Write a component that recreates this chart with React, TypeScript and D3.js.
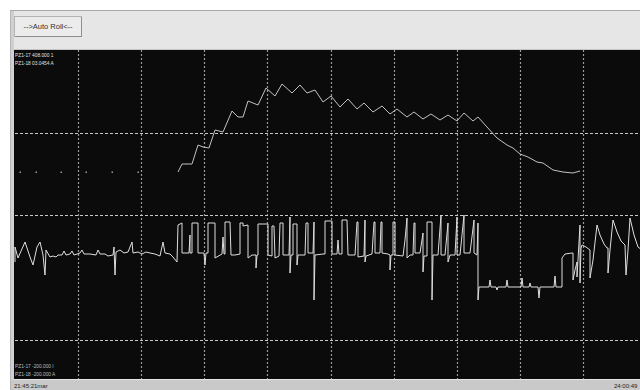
import React from "react";
import * as d3 from "d3";

// Trace readings: x in samples from the left edge, y in counts from the bottom edge
const topDotsX = [5, 21, 46, 71, 97, 123];
const topDotsY = [207, 207, 207, 207, 207, 207];

const topX = [163, 167, 177, 183, 188, 194, 200, 208, 217, 223, 228, 233, 243, 251, 260, 267, 277, 285, 292, 300, 308, 316, 325, 333, 342, 349, 358, 367, 375, 382, 392, 399, 408, 416, 425, 433, 442, 449, 458, 463, 472, 482, 492, 498, 505, 513, 522, 528, 538, 548, 558, 565];
const topY = [207, 215, 215, 234, 232, 231, 249, 247, 268, 262, 262, 278, 274, 291, 283, 295, 286, 294, 286, 289, 277, 283, 272, 280, 270, 276, 267, 273, 265, 270, 262, 267, 260, 265, 259, 264, 258, 266, 258, 262, 252, 241, 234, 231, 225, 222, 217, 216, 209, 207, 206, 208];

const bottomX = [
  0, 0, 3, 10, 15, 18, 22, 25, 28, 30, 31, 35, 38, 41, 43, 47, 49, 51, 55, 57, 59, 65, 67, 69, 75, 81, 83, 85, 90, 93, 98, 99, 100, 101, 105, 109, 113, 117, 118, 123, 127, 131, 135, 140, 145, 148, 150, 155, 158, 162,
  163, 167, 167, 174, 175, 175, 177, 177, 183, 183, 189, 190, 191, 193, 193, 200, 200, 207, 208, 209, 210, 210, 215, 216, 220, 225, 225, 228, 228, 233, 233, 237, 241, 241, 242, 243, 243, 253, 253, 257, 257, 259, 260, 264, 265, 268, 268, 274, 275, 275, 276, 278, 278, 282, 282, 283, 290, 291, 293, 293, 298, 299, 299, 300, 308, 310, 310, 317, 317, 322, 323, 324, 327, 327, 332, 333, 340, 342, 343, 343, 349, 350, 350, 351, 357, 359, 360, 360, 365, 366, 367, 367, 373, 375, 375, 376, 378, 378, 380, 380, 388, 390, 392, 392, 395, 398, 399, 400, 400, 405, 408, 408, 409, 412, 412, 417, 417, 418, 423, 426, 426, 430, 433, 433, 435, 440, 442, 442, 445, 449, 449, 455, 459, 459, 462, 463, 463, 464,
  474, 475, 476, 481, 482, 483, 491, 492, 493, 506, 507, 508, 514, 515, 516, 523, 524, 525, 539, 540, 541, 547,
  547, 550, 557, 558, 558, 560, 562, 562, 563, 565, 565, 566, 567, 571, 575, 575, 578, 582, 585, 589, 592, 593, 593, 595, 598, 602, 606, 610, 611, 613, 615, 619, 623, 627,
];
const bottomY = [
  117, 132, 121, 137, 122, 114, 132, 137, 124, 104, 129, 122, 123, 122, 124, 124, 128, 124, 125, 128, 124, 126, 129, 125, 125, 124, 129, 125, 125, 123, 124, 132, 104, 127, 129, 126, 127, 137, 126, 127, 125, 127, 126, 125, 123, 137, 126, 125, 122, 117,
  154, 156, 126, 126, 144, 126, 126, 156, 156, 126, 126, 114, 126, 126, 156, 156, 121, 125, 142, 125, 125, 157, 157, 124, 124, 125, 156, 156, 153, 154, 121, 124, 124, 111, 124, 124, 155, 155, 124, 123, 153, 153, 121, 123, 156, 156, 124, 124, 162, 106, 124, 124, 155, 155, 114, 124, 124, 156, 156, 126, 126, 157, 79, 124, 125, 125, 158, 158, 125, 125, 139, 125, 125, 159, 159, 124, 124, 157, 157, 122, 123, 159, 117, 123, 125, 157, 157, 126, 126, 157, 157, 126, 125, 124, 109, 124, 124, 157, 157, 124, 123, 139, 161, 121, 124, 124, 156, 156, 126, 126, 146, 107, 123, 123, 157, 157, 79, 124, 124, 164, 124, 124, 156, 117, 124, 124, 162, 124, 124, 164, 126, 126, 159, 126, 124, 156, 79, 92,
  92, 99, 92, 92, 89, 92, 92, 99, 92, 92, 101, 92, 92, 96, 92, 92, 81, 92, 92, 103, 92, 92,
  121, 125, 126, 126, 99, 109, 117, 102, 119, 154, 96, 131, 134, 132, 129, 101, 119, 154, 144, 135, 131, 131, 106, 129, 159, 147, 138, 134, 104, 129, 161, 144, 132, 129,
];

// Dashed horizontal reference levels (counts)
const levelLines = [246, 164, 39];
const divisions = 10;

const topLabels = ["PZ1-17 408.000 1", "PZ1-18 03.0454 A"];
const bottomLabels = ["PZ1-17 -200.000 I", "PZ1-18 -200.000 A"];
const startTime = "21:45:21mar";
const endTime = "24:00:49";
const buttonText = "-->Auto Roll<--";

const W = 640;
const H = 390;
const plot = { left: 15, right: 646, top: 50, bottom: 379 };

export default function App() {
  const x = d3.scaleLinear().domain([0, 631]).range([plot.left, plot.right]);
  const y = d3.scaleLinear().domain([0, 329]).range([plot.bottom, plot.top]);

  const line = d3
    .line<[number, number]>()
    .x((d) => x(d[0]))
    .y((d) => y(d[1]));

  const topPts = topX.map((v, i) => [v, topY[i]] as [number, number]);
  const bottomPts = bottomX.map((v, i) => [v, bottomY[i]] as [number, number]);
  const gridXs = d3.range(1, divisions).map((k) => (631 * k) / divisions);

  const font = "'Liberation Sans', Arial, sans-serif";

  return (
    <svg
      width={W}
      height={H}
      style={{ position: "fixed", left: 0, top: 0, display: "block" }}
    >
      <rect x={0} y={0} width={W} height={H} fill="#ffffff" />
      {/* window panel */}
      <rect x={10} y={10} width={W - 10} height={H - 10} fill="#e6e6e6" />
      <line x1={10} y1={10.5} x2={W} y2={10.5} stroke="#a9a9a9" />
      <line x1={10.5} y1={10} x2={10.5} y2={H} stroke="#b5b5b5" />
      <rect x={11} y={11} width={3} height={H - 11} fill="#d0d0d0" />

      {/* Auto Roll button */}
      <rect x={14.5} y={16.5} width={67} height={20} fill="#ececec" stroke="#b4b4b4" />
      <line x1={15} y1={36.5} x2={82} y2={36.5} stroke="#8e8e8e" />
      <line x1={81.5} y1={17} x2={81.5} y2={37} stroke="#8e8e8e" />
      <text
        x={48}
        y={29}
        textAnchor="middle"
        fontFamily={font}
        fontSize={7.5}
        fill="#333"
      >
        {buttonText}
      </text>

      {/* plot area */}
      <line x1={14} y1={49.5} x2={W} y2={49.5} stroke="#c4c4c4" />
      <rect
        x={14}
        y={plot.top}
        width={W - 14}
        height={plot.bottom - plot.top}
        fill="#0b0b0b"
      />

      {/* grid */}
      {gridXs.map((g, i) => (
        <line
          key={"v" + i}
          x1={Math.round(x(g)) + 0.5}
          x2={Math.round(x(g)) + 0.5}
          y1={plot.top}
          y2={plot.bottom}
          stroke="#9a9a9a"
          strokeWidth={1.2}
          strokeDasharray="2,2"
        />
      ))}
      {levelLines.map((v, i) => (
        <line
          key={"h" + i}
          x1={plot.left}
          x2={W}
          y1={Math.round(y(v)) + 0.5}
          y2={Math.round(y(v)) + 0.5}
          stroke="#c8c8c8"
          strokeWidth={1}
          strokeDasharray="3,2"
        />
      ))}

      {/* traces */}
      {topDotsX.map((v, i) => (
        <rect
          key={"d" + i}
          x={x(v) - 0.5}
          y={y(topDotsY[i]) - 0.5}
          width={1.5}
          height={1.5}
          fill="#9a9a9a"
        />
      ))}
      <path d={line(topPts) || ""} fill="none" stroke="#c2c2c2" strokeWidth={1} />
      <path d={line(bottomPts) || ""} fill="none" stroke="#dedede" strokeWidth={1} />

      {/* channel labels */}
      {topLabels.map((t, i) => (
        <text
          key={"tl" + i}
          x={15}
          y={57 + i * 8}
          fontFamily={font}
          fontSize={4.8}
          fill="#e0e0e0"
        >
          {t}
        </text>
      ))}
      {bottomLabels.map((t, i) => (
        <text
          key={"bl" + i}
          x={15}
          y={368 + i * 8}
          fontFamily={font}
          fontSize={4.8}
          fill="#bdbdbd"
        >
          {t}
        </text>
      ))}

      {/* time strip */}
      <rect x={11} y={plot.bottom + 1} width={W - 11} height={H - plot.bottom - 1} fill="#c9c9c9" />
      <text x={14} y={388} fontFamily={font} fontSize={6} fill="#222">
        {startTime}
      </text>
      <text x={614} y={388} fontFamily={font} fontSize={6} fill="#222">
        {endTime}
      </text>
    </svg>
  );
}
